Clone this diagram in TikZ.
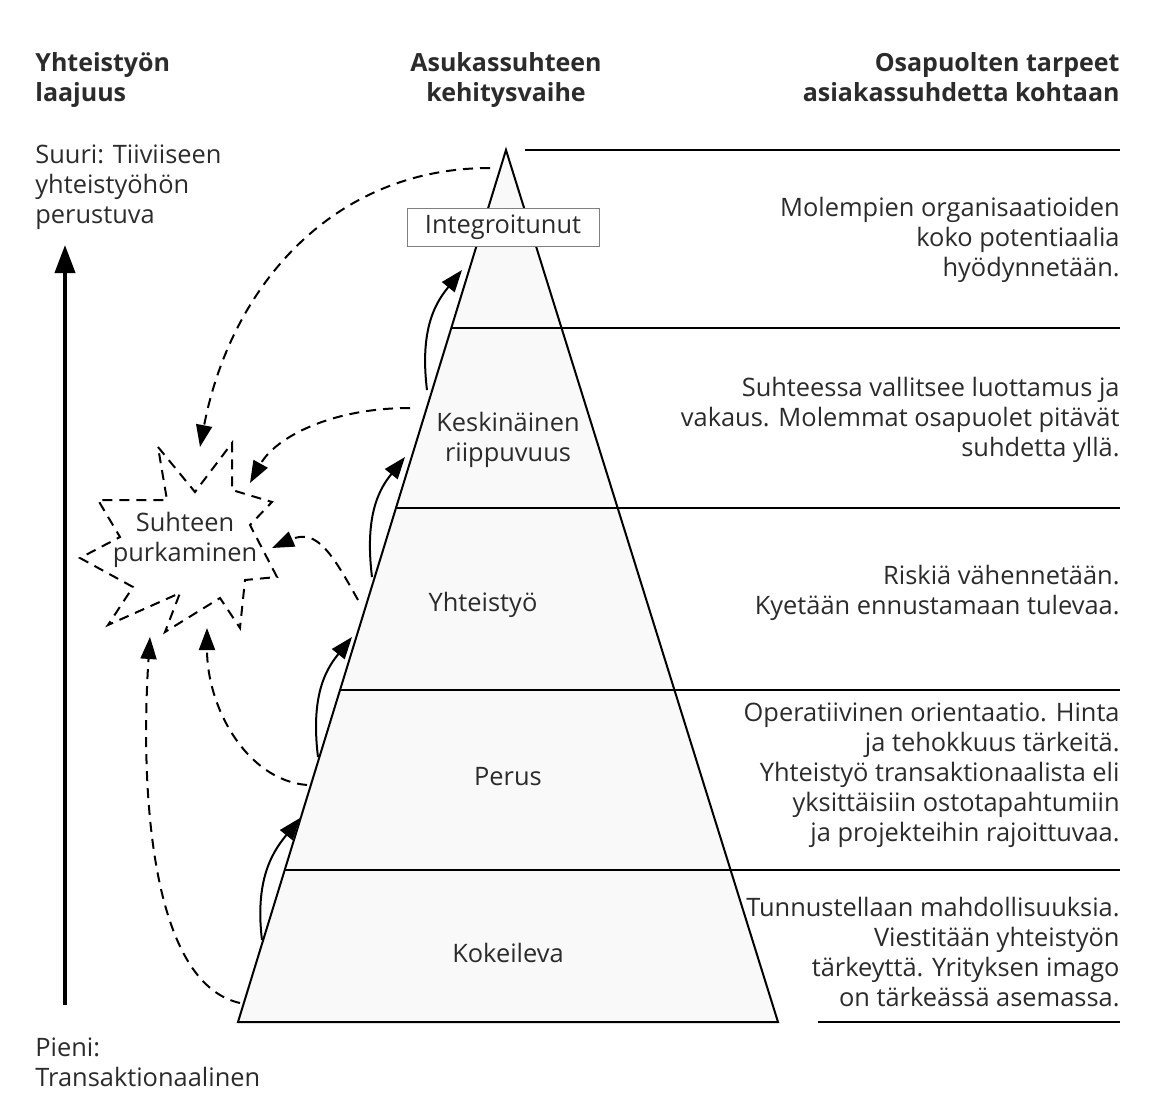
\documentclass[tikz,border=0pt]{standalone}
\usepackage{fontspec}
\setmainfont{Open Sans}
\usetikzlibrary{arrows.meta}
\definecolor{ink}{HTML}{2B2B2B}
\tikzset{
  txt/.style={font=\fontsize{12.7}{15}\selectfont,text=ink,inner sep=0pt},
  head/.style={txt,font=\fontsize{12.5}{15}\selectfont\bfseries},
  need/.style={txt,align=right,anchor=north east},
  climb/.style={line width=1pt,-{Triangle[length=11pt,width=8pt]}},
  drop/.style={line width=1pt,dash pattern=on 5pt off 3.5pt,-{Triangle[length=11pt,width=8pt]}}
}
\begin{document}
\begin{tikzpicture}[x=0.5pt,y=-0.5pt]
    \useasboundingbox (0,0) rectangle (1152,1097);
    \coordinate (top) at (506,150);
    \coordinate (bl) at (238,1022);
    \coordinate (br) at (778,1022);
    \filldraw[fill=gray!5,line width=1pt](top)--(bl)--(br)--cycle;
    \draw[line width=1pt](525,150)--(1120,150);
    \foreach \y/\xl in {328/451,508/396,690/340,870/285}
        \draw[line width=1pt](\xl,\y)--(1120,\y);
    \draw[line width=1pt](818,1022)--(1120,1022);

    \coordinate (low) at (65,1005);
    \coordinate (high) at (65,245);
    \draw[line width=2pt,-{Triangle[length=14pt,width=10pt]}](low)--(high);

    \node[head,anchor=north west,align=left] (scope) at (35,52) {Yhteistyön\\laajuus};
    \node[head,anchor=north,align=center] (stage) at (506,52) {Asukassuhteen\\kehitysvaihe};
    \node[head,anchor=north east,align=right] (needs) at (1120,52) {Osapuolten tarpeet\\asiakassuhdetta kohtaan};
    \node[txt,anchor=north west,align=left] (big) at (35,144) {Suuri: Tiiviiseen\\yhteistyöhön\\perustuva};
    \node[txt,anchor=north west,align=left] (small) at (35,1037) {Pieni:\\Transaktionaalinen};

    \node[txt,draw=gray,fill=white,minimum width=96pt,minimum height=19pt] (integ) at (503,227) {Integroitunut};
    \node[txt,align=center] (kesk) at (508,440) {Keskinäinen\\riippuvuus};
    \node[txt] (yht) at (483,605) {Yhteistyö};
    \node[txt] (perus) at (508,777) {Perus};
    \node[txt] (kok) at (508,953) {Kokeileva};

    \node[need] (n5) at (1120,197) {Molempien organisaatioiden\\koko potentiaalia\\hyödynnetään.};
    \node[need] (n4) at (1120,377) {Suhteessa vallitsee luottamus ja\\vakaus. Molemmat osapuolet pitävät\\suhdetta yllä.};
    \node[need] (n3) at (1120,565) {Riskiä vähennetään.\\Kyetään ennustamaan tulevaa.};
    \node[need] (n2) at (1120,702) {Operatiivinen orientaatio. Hinta\\ja tehokkuus tärkeitä.\\Yhteistyö transaktionaalista eli\\yksittäisiin ostotapahtumiin\\ja projekteihin rajoittuvaa.};
    \node[need] (n1) at (1120,897) {Tunnustellaan mahdollisuuksia.\\Viestitään yhteistyön\\tärkeyttä. Yrityksen imago\\on tärkeässä asemassa.};

    \draw[line width=1pt,dash pattern=on 5pt off 3.5pt](158,447)--(195,492)--(232,443)--(232,490)--(272,502)--(250,525)
        --(277,577)--(245,580)--(240,628)--(220,598)--(165,632)--(180,593)--(108,625)--(133,587)
        --(80,558)--(120,537)--(98,500)--(167,500)--cycle;
    \node[txt,align=center] (purku) at (185,540) {Suhteen\\purkaminen};

    \coordinate (a1s) at (262,940); \coordinate (a1e) at (300,818);
    \coordinate (a2s) at (318,757); \coordinate (a2e) at (352,637);
    \coordinate (a3s) at (372,577); \coordinate (a3e) at (405,457);
    \coordinate (a4s) at (427,390); \coordinate (a4e) at (462,270);
    \foreach \i in {1,...,4}
        \draw[climb](a\i s) .. controls +(-8,-65) and +(-24,30) .. (a\i e);

    \coordinate (d1s) at (490,168); \coordinate (d1e) at (200,447);
    \coordinate (d2s) at (410,408); \coordinate (d2e) at (250,483);
    \coordinate (d3s) at (358,600); \coordinate (d3e) at (272,548);
    \coordinate (d4s) at (307,785); \coordinate (d4e) at (207,628);
    \coordinate (d5s) at (240,1003); \coordinate (d5e) at (150,637);
    \draw[drop](d1s) .. controls +(-160,0) and +(30,-157) .. (d1e);
    \draw[drop](d2s) .. controls +(-80,0) and +(25,-45) .. (d2e);
    \draw[drop](d3s) .. controls +(-25,-45) and +(45,-20) .. (d3e);
    \draw[drop](d4s) .. controls +(-60,-5) and +(0,80) .. (d4e);
    \draw[drop](d5s) .. controls +(-90,-20) and +(-10,150) .. (d5e);
\end{tikzpicture}
\end{document}
